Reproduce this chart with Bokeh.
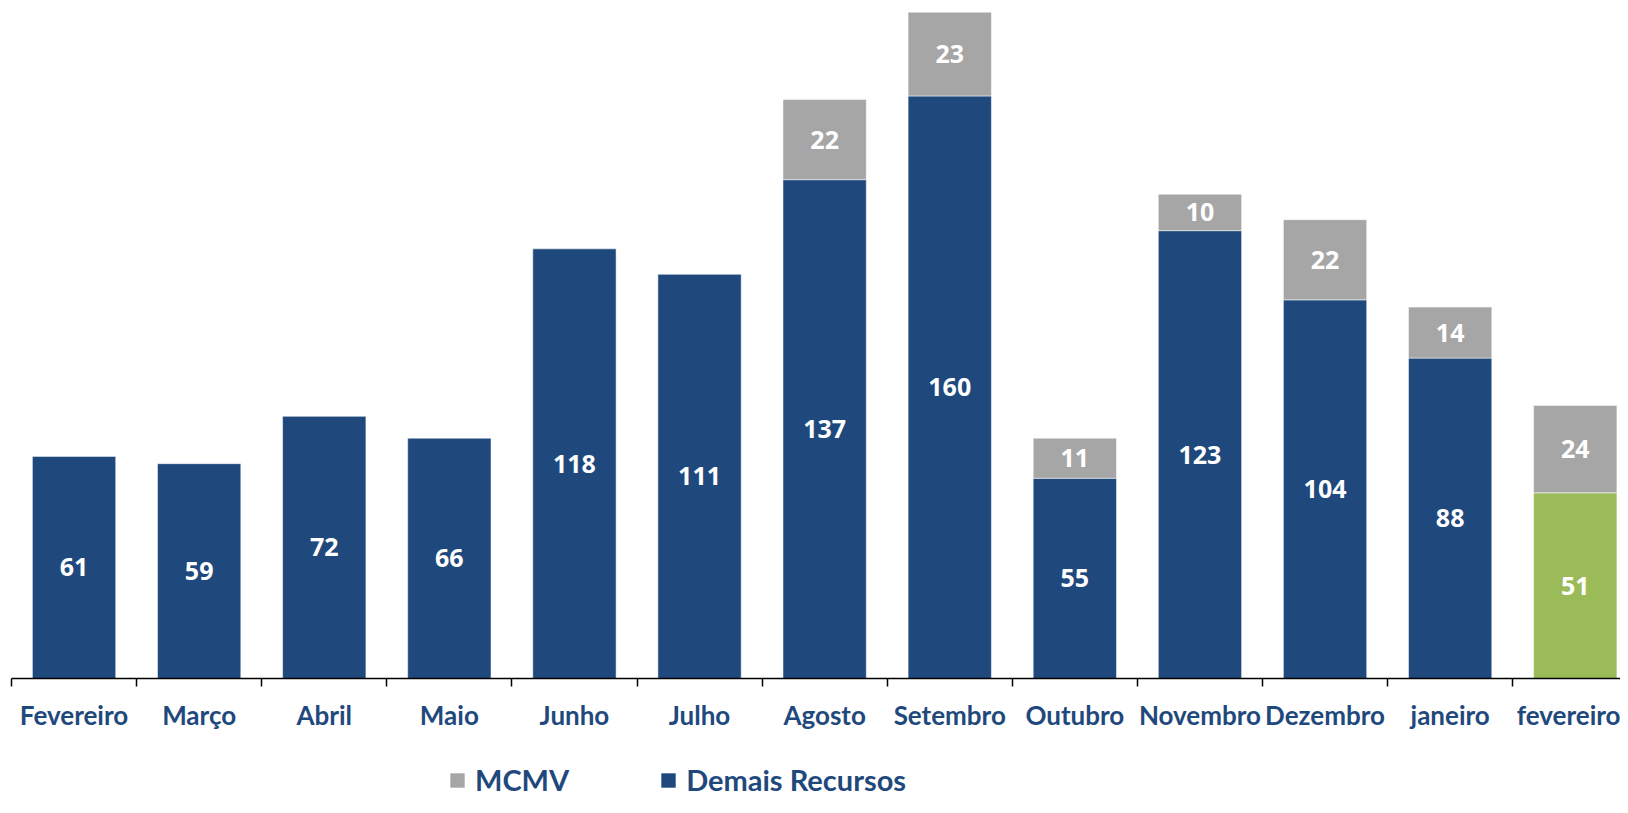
from bokeh.plotting import figure
from bokeh.layouts import column
from bokeh.models import ColumnDataSource, FixedTicker, Legend, LegendItem, Range1d
from bokeh.core.properties import value
from bokeh.embed import file_html
from bokeh.resources import INLINE
import numpy as np

months = ["Fevereiro", "Março", "Abril", "Maio", "Junho", "Julho", "Agosto",
          "Setembro", "Outubro", "Novembro", "Dezembro", "janeiro", "fevereiro"]
demais = [61, 59, 72, 66, 118, 111, 137, 160, 55, 123, 104, 88, 51]
mcmv = [0, 0, 0, 0, 0, 0, 22, 23, 11, 10, 22, 14, 24]
series_names = ["MCMV", "Demais Recursos"]

BLUE = "#1F497D"
GRAY = "#A6A6A6"
GREEN = "#9BBB59"
FONT = "Lato"
NUMFONT = "Open Sans"

n = len(months)
xc = np.arange(n) + 0.5
dem = np.array(demais, dtype=float)
mc = np.array(mcmv, dtype=float)
colors = [BLUE] * (n - 1) + [GREEN]

src_d = ColumnDataSource(dict(x=xc, top=dem, mid=dem / 2, lab=[str(v) for v in demais], color=colors))
mask = mc > 0
src_m = ColumnDataSource(dict(x=xc[mask], bottom=dem[mask], top=(dem + mc)[mask],
                              mid=(dem + mc / 2)[mask], lab=[str(int(v)) for v in mc[mask]]))

W = 1620
H1 = 740
H2 = 57
LEFT = 11
BOTTOM = 62
p = figure(width=W, height=H1, output_backend="svg", toolbar_location=None,
           x_range=Range1d(0, (W - LEFT) / 125.1), y_range=Range1d(0, (H1 - BOTTOM) / 3.641),
           y_axis_location=None, min_border_left=LEFT, min_border_right=0,
           min_border_top=0, min_border_bottom=BOTTOM)
p.outline_line_color = None
p.xgrid.visible = False
p.ygrid.visible = False
p.background_fill_color = "white"
p.border_fill_color = "white"

r_d = p.vbar(x="x", top="top", bottom=0, width=0.666, source=src_d,
             fill_color="color", line_color="white", line_alpha=0.5, line_width=1)
r_m = p.vbar(x="x", top="top", bottom="bottom", width=0.666, source=src_m,
             fill_color=GRAY, line_color="white", line_alpha=0.5, line_width=1)

p.text(x="x", y="mid", text="lab", source=src_d, text_color="white",
       text_font=value(NUMFONT), text_font_style="bold", text_font_size="25px",
       text_align="center", text_baseline="middle")
p.text(x="x", y="mid", text="lab", source=src_m, text_color="white",
       text_font=value(NUMFONT), text_font_style="bold", text_font_size="25px",
       text_align="center", text_baseline="middle")

ax = p.xaxis[0]
ax.ticker = FixedTicker(ticks=list(xc), minor_ticks=list(np.arange(n + 1)))
ax.major_label_overrides = {float(x): m for x, m in zip(xc, months)}
ax.major_tick_out = 8
ax.major_tick_in = 0
ax.major_tick_line_color = None
ax.minor_tick_out = 8
ax.minor_tick_in = 0
ax.minor_tick_line_color = "black"
ax.minor_tick_line_width = 1.5
ax.axis_line_color = "black"
ax.axis_line_width = 1.5
ax.major_label_standoff = 12
ax.major_label_text_font = FONT
ax.major_label_text_font_style = "bold"
ax.major_label_text_font_size = "26px"
ax.major_label_text_color = BLUE

# legend strip below the chart (swatch renderers have zero height, so draw nothing)
p2 = figure(width=W, height=H2, output_backend="svg", toolbar_location=None,
            x_range=Range1d(0, 1), y_range=Range1d(0, 1),
            x_axis_location=None, y_axis_location=None, min_border=0)
p2.outline_line_color = None
p2.xgrid.visible = False
p2.ygrid.visible = False
p2.border_fill_color = "white"
p2.background_fill_color = "white"
lg_m = p2.vbar(x=[0.5], top=[0], bottom=0, width=0.01, fill_color=GRAY, line_color=None)
lg_d = p2.vbar(x=[0.5], top=[0], bottom=0, width=0.01, fill_color=BLUE, line_color=None)
legend = Legend(items=[LegendItem(label=series_names[0], renderers=[lg_m]),
                       LegendItem(label=series_names[1], renderers=[lg_d])],
                location=(437, 0), orientation="horizontal",
                padding=0, margin=0, spacing=90, label_standoff=9,
                glyph_width=18, glyph_height=18,
                label_text_font=FONT, label_text_font_style="bold",
                label_text_font_size="29px", label_text_color=BLUE,
                border_line_color=None, background_fill_alpha=0)
p2.add_layout(legend, "center")

layout = column(p, p2, spacing=0)
open("out.html", "w").write(file_html(layout, INLINE))
